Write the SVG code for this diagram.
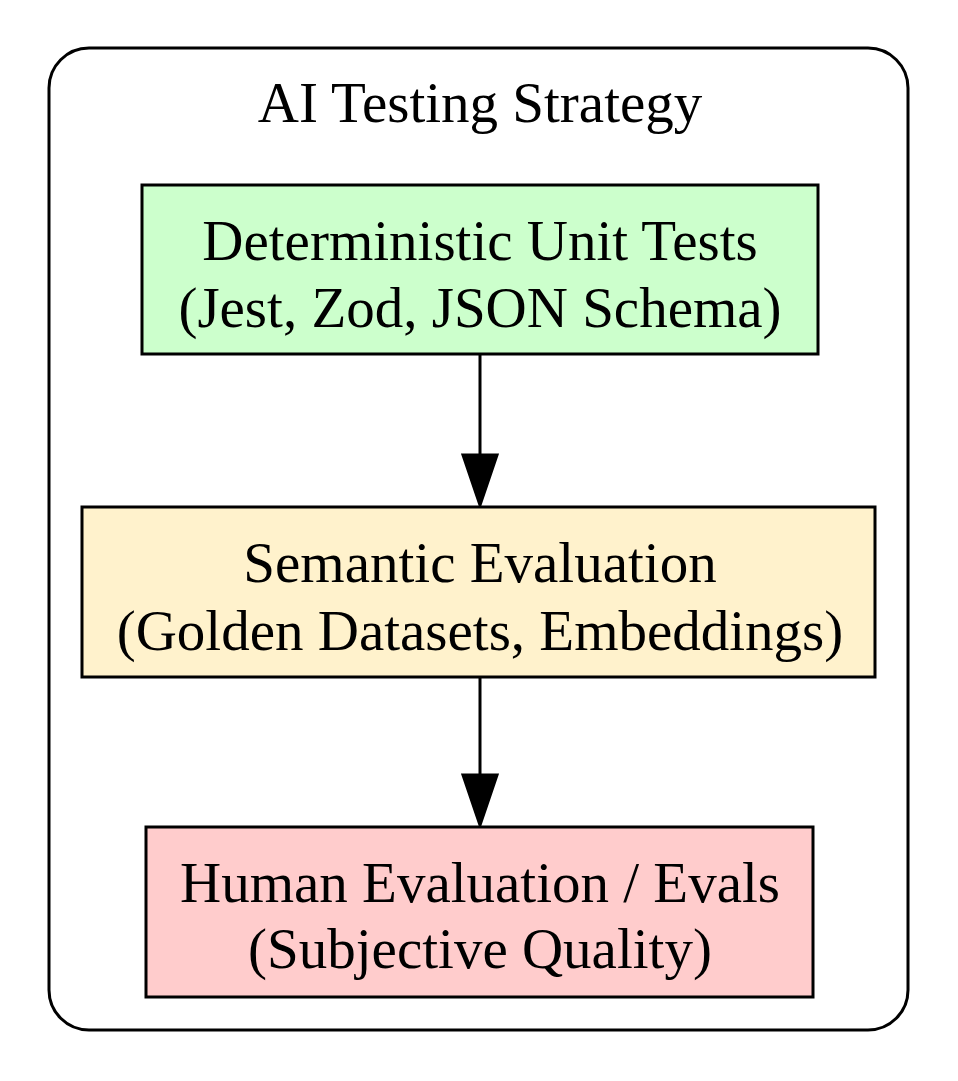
<svg xmlns="http://www.w3.org/2000/svg" width="958" height="1081" viewBox="0 0 958 1081">
<style>
text{font-family:"Liberation Serif","Times New Roman",serif;font-size:57px;text-anchor:middle;fill:#000}
.n{stroke:#000;stroke-width:3}
.e{stroke:#000;stroke-width:3;fill:none}
</style>
<rect width="958" height="1081" fill="#fff"/>
<g id="cluster"><rect x="49" y="48" width="859" height="982" rx="40" fill="none" stroke="#000" stroke-width="3"/><text x="480" y="122">AI Testing Strategy</text></g>
<g id="connectors">
<line class="e" x1="480" y1="355" x2="480" y2="456"/><polygon points="463,455 497,455 480,505" fill="#000" stroke="#000" stroke-width="3"/>
<line class="e" x1="480" y1="677" x2="480" y2="776"/><polygon points="463,775 497,775 480,825" fill="#000" stroke="#000" stroke-width="3"/>
</g>
<g id="node1"><rect class="n" x="142" y="185" width="676" height="169" fill="#ccffcc"/><text x="480" y="260">Deterministic Unit Tests</text><text x="480" y="327">(Jest, Zod, JSON Schema)</text></g>
<g id="node2"><rect class="n" x="82" y="507" width="793" height="170" fill="#fff2cc"/><text x="480" y="582">Semantic Evaluation</text><text x="480" y="650">(Golden Datasets, Embeddings)</text></g>
<g id="node3"><rect class="n" x="146" y="827" width="667" height="170" fill="#ffcccc"/><text x="480" y="902">Human Evaluation / Evals</text><text x="480" y="968">(Subjective Quality)</text></g>
</svg>
